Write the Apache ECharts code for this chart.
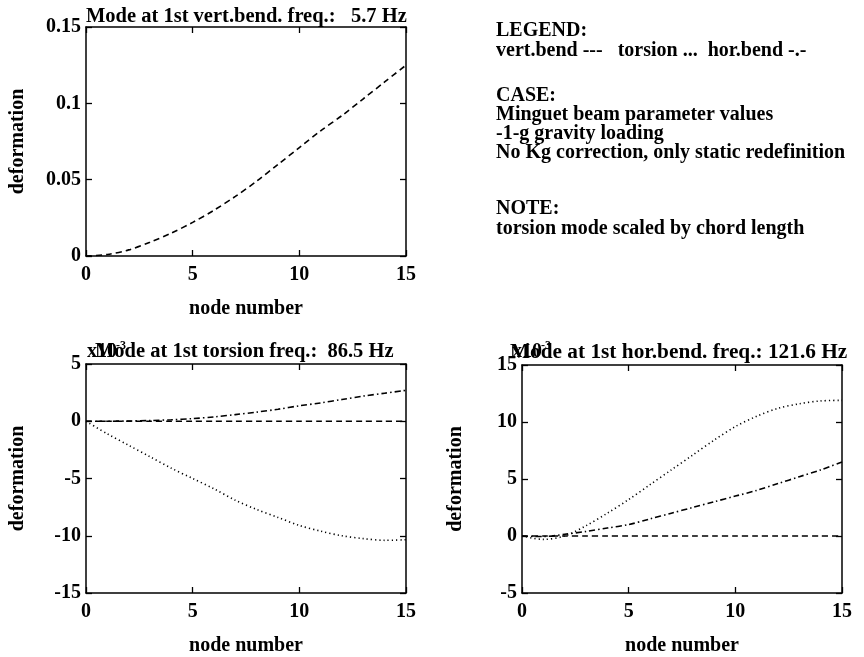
<!DOCTYPE html>
<html lang="en">
<head>
    <meta charset="utf-8"/>
    <title>Beam modes</title>
    <style>
        html, body { margin: 0; padding: 0; background: #fff; }
        #main { width: 864px; height: 657px; }
    </style>
</head>
<body>
<div id="main"></div>

<script src="https://cdn.jsdelivr.net/npm/echarts@6/dist/echarts.min.js"></script>
<script type="text/javascript">
    // node numbers along the beam
    var nodes = [0, 1, 2, 3, 4, 5, 6, 7, 8, 9, 10, 11, 12, 13, 14, 15];

    // mode 1 : vert. bending, 5.7 Hz
    var m1VertBend = [0, 0.001, 0.004, 0.009, 0.015, 0.022, 0.030, 0.039, 0.049, 0.060, 0.071, 0.082, 0.092, 0.103, 0.114, 0.125];

    // mode 2 : torsion, 86.5 Hz (x10^-3)
    var m2VertBend = [0, 0, 0, 0, 0, 0, 0, 0, 0, 0, 0, 0, 0, 0, 0, 0];
    var m2Torsion = [0, -1.1, -2.1, -3.1, -4.1, -5.0, -5.9, -6.9, -7.7, -8.4, -9.1, -9.6, -10.0, -10.25, -10.4, -10.35];
    var m2HorBend = [0, 0, 0.02, 0.06, 0.13, 0.23, 0.38, 0.58, 0.80, 1.05, 1.35, 1.6, 1.9, 2.2, 2.45, 2.7];

    // mode 3 : hor. bending, 121.6 Hz (x10^-3)
    var m3VertBend = [0, 0, 0, 0, 0, 0, 0, 0, 0, 0, 0, 0, 0, 0, 0, 0];
    var m3Torsion = [0, -0.3, 0, 0.9, 2.0, 3.2, 4.5, 5.8, 7.1, 8.4, 9.6, 10.5, 11.2, 11.6, 11.85, 11.9];
    var m3HorBend = [0, -0.05, 0.15, 0.4, 0.7, 1.0, 1.5, 2.0, 2.5, 3.0, 3.5, 4.0, 4.6, 5.2, 5.8, 6.5];

    var titles = [
        'Mode at 1st vert.bend. freq.:   5.7 Hz',
        'Mode at 1st torsion freq.:  86.5 Hz',
        'Mode at 1st hor.bend. freq.: 121.6 Hz'
    ];
    var notes = [
        ['LEGEND:', 31],
        ['vert.bend ---   torsion ...  hor.bend -.-', 51],
        ['CASE:', 96],
        ['Minguet beam parameter values', 115],
        ['-1-g gravity loading', 134],
        ['No Kg correction, only static redefinition', 153],
        ['NOTE:', 209],
        ['torsion mode scaled by chord length', 229]
    ];

    var FONT = '"Liberation Serif", "DejaVu Serif", serif';
    var DASH = [6, 4];
    var DOT = [1.2, 3];
    var DASHDOT = [6, 3, 1.5, 3];

    function pairs(ys) {
        return nodes.map(function (n, i) { return [n, ys[i]]; });
    }

    var axisLine = { show: true, onZero: false, lineStyle: { color: '#000', width: 1.5 } };
    var axisTick = { show: true, inside: true, length: 6, lineStyle: { color: '#000', width: 1.3 } };
    var tickFont = { color: '#000', fontFamily: FONT, fontWeight: 'bold', fontSize: 20 };
    var nameFont = { color: '#000', fontFamily: FONT, fontWeight: 'bold', fontSize: 20 };

    var grids = [
        { left: 86, top: 27, width: 320, height: 229 },
        { left: 86, top: 364, width: 320, height: 230 },
        { left: 522, top: 365, width: 320, height: 229 }
    ];
    var yRanges = [[0, 0.15, 0.05], [-15, 5, 5], [-5, 15, 5]];
    var yNameGaps = [58, 58, 56];

    var xAxes = [], yAxes = [];
    grids.forEach(function (g, i) {
        xAxes.push({
            type: 'value', gridIndex: i, min: 0, max: 15, interval: 5,
            position: 'bottom',
            axisLine: axisLine, axisTick: axisTick, splitLine: { show: false },
            axisLabel: Object.assign({ margin: 9 }, tickFont),
            name: 'node number', nameLocation: 'middle', nameGap: 43, nameTextStyle: nameFont
        });
        xAxes.push({
            type: 'value', gridIndex: i, min: 0, max: 15, interval: 5,
            position: 'top',
            axisLine: axisLine, axisTick: axisTick, splitLine: { show: false },
            axisLabel: { show: false }
        });
        yAxes.push({
            type: 'value', gridIndex: i, min: yRanges[i][0], max: yRanges[i][1], interval: yRanges[i][2],
            position: 'left',
            axisLine: axisLine, axisTick: axisTick, splitLine: { show: false },
            axisLabel: Object.assign({ margin: 5 }, tickFont),
            name: 'deformation', nameLocation: 'middle', nameGap: yNameGaps[i], nameRotate: 90,
            nameTextStyle: nameFont
        });
        yAxes.push({
            type: 'value', gridIndex: i, min: yRanges[i][0], max: yRanges[i][1], interval: yRanges[i][2],
            position: 'right',
            axisLine: axisLine, axisTick: axisTick, splitLine: { show: false },
            axisLabel: { show: false }
        });
    });

    function line(gridIdx, ys, dash) {
        return {
            type: 'line', xAxisIndex: gridIdx * 2, yAxisIndex: gridIdx * 2,
            data: pairs(ys), smooth: 0.3, symbol: 'none', silent: true,
            lineStyle: { color: '#000', width: 1.6, type: dash }
        };
    }

    var graphic = [];
    var titlePos = [[86, 17, 20.5], [95, 352, 20.5], [510, 352, 21.3]];
    titles.forEach(function (t, i) {
        graphic.push({
            type: 'text', x: titlePos[i][0], y: titlePos[i][1],
            style: { text: t, fill: '#000', font: 'bold ' + titlePos[i][2] + 'px ' + FONT, verticalAlign: 'middle' }
        });
    });
    // the x10^-3 scale factor, printed over the start of the lower titles
    [[87, 352], [512, 352]].forEach(function (p) {
        graphic.push({
            type: 'text', x: p[0], y: p[1],
            style: { text: 'x10', fill: '#000', font: 'bold 20px ' + FONT, verticalAlign: 'middle' }
        });
        graphic.push({
            type: 'text', x: p[0] + 29, y: p[1] - 6,
            style: { text: '-3', fill: '#000', font: 'bold 12px ' + FONT, verticalAlign: 'middle' }
        });
    });
    notes.forEach(function (n) {
        graphic.push({
            type: 'text', x: 496, y: n[1],
            style: { text: n[0], fill: '#000', font: 'bold 20px ' + FONT, verticalAlign: 'middle' }
        });
    });

    var chart = echarts.init(document.getElementById('main'));
    chart.setOption({
        animation: false,
        backgroundColor: '#fff',
        grid: grids,
        xAxis: xAxes,
        yAxis: yAxes,
        graphic: graphic,
        series: [
            line(0, m1VertBend, DASH),
            line(1, m2VertBend, DASH),
            line(1, m2Torsion, DOT),
            line(1, m2HorBend, DASHDOT),
            line(2, m3VertBend, DASH),
            line(2, m3Torsion, DOT),
            line(2, m3HorBend, DASHDOT)
        ]
    });
</script>
</body>
</html>
